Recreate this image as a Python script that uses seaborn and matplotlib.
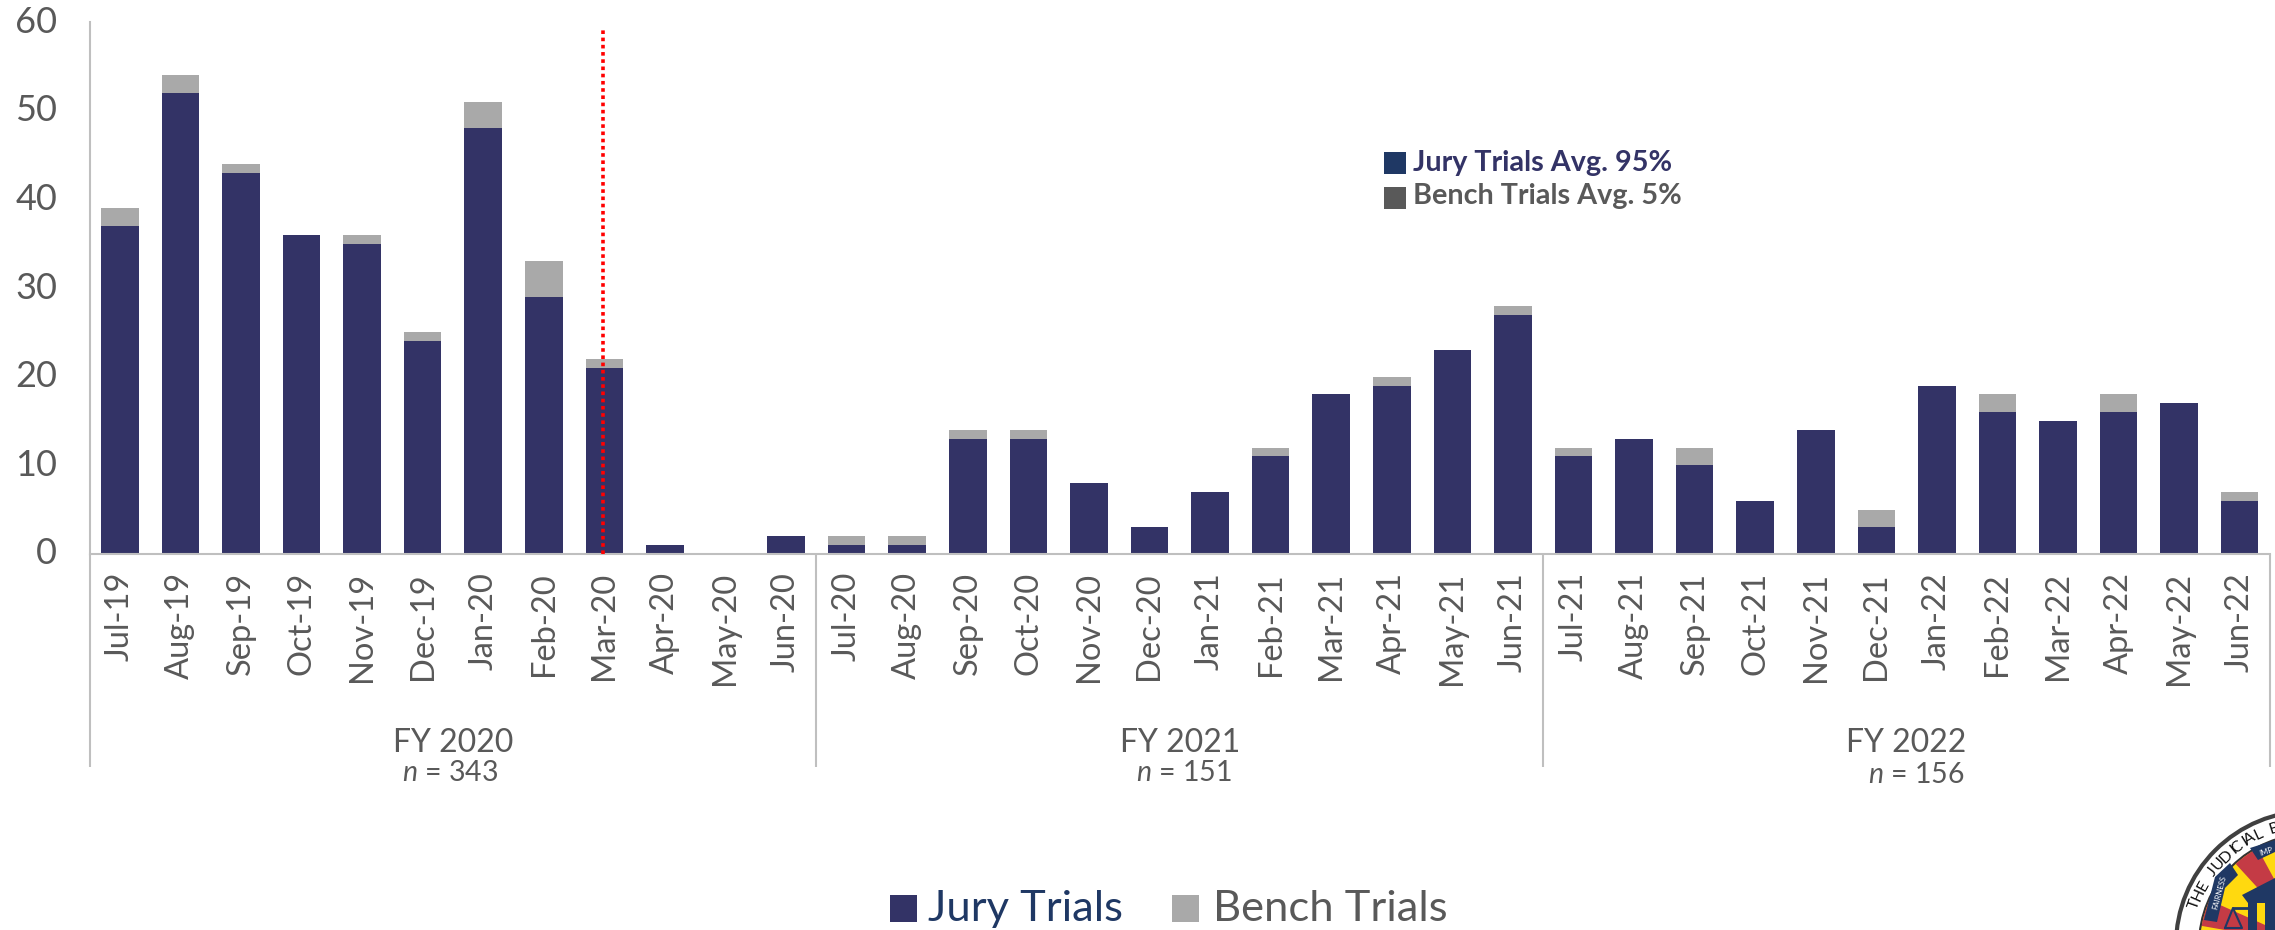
"""Monthly jury and bench trials, FY 2020 to FY 2022, as stacked seaborn bars."""

import matplotlib.pyplot as plt
import numpy as np
import pandas as pd
import seaborn as sns
from matplotlib.patches import Circle, Polygon, Rectangle, Wedge
from matplotlib.transforms import ScaledTranslation

months = [
    "Jul-19", "Aug-19", "Sep-19", "Oct-19", "Nov-19", "Dec-19",
    "Jan-20", "Feb-20", "Mar-20", "Apr-20", "May-20", "Jun-20",
    "Jul-20", "Aug-20", "Sep-20", "Oct-20", "Nov-20", "Dec-20",
    "Jan-21", "Feb-21", "Mar-21", "Apr-21", "May-21", "Jun-21",
    "Jul-21", "Aug-21", "Sep-21", "Oct-21", "Nov-21", "Dec-21",
    "Jan-22", "Feb-22", "Mar-22", "Apr-22", "May-22", "Jun-22",
]
jury = [
    37, 52, 43, 36, 35, 24, 48, 29, 21, 1, 0, 2,
    1, 1, 13, 13, 8, 3, 7, 11, 18, 19, 23, 27,
    11, 13, 10, 6, 14, 3, 19, 16, 15, 16, 17, 6,
]
bench = [
    2, 2, 1, 0, 1, 1, 3, 4, 1, 0, 0, 0,
    1, 1, 1, 1, 0, 0, 0, 1, 0, 1, 0, 1,
    1, 0, 2, 0, 0, 2, 0, 2, 0, 2, 0, 1,
]
fiscal_years = ["FY 2020", "FY 2021", "FY 2022"]
fiscal_counts = ["343", "151", "156"]

NAVY = "#333366"
DEEP_BLUE = "#1F3864"
GREY = "#A9A9A9"
TEXT = "#595959"
AXIS = "#BFBFBF"
W, H = 2275, 930

sns.set_theme(style="white")
plt.rcParams["font.family"] = ["Lato", "DejaVu Sans"]
plt.rcParams["mathtext.fontset"] = "custom"
plt.rcParams["mathtext.it"] = "Lato:italic"
plt.rcParams["mathtext.rm"] = "Lato"

df = pd.DataFrame({"month": months, "jury": jury, "bench": bench})
df["total"] = df["jury"] + df["bench"]

fig = plt.figure(figsize=(W / 100, H / 100), dpi=100, facecolor="white")
ax = fig.add_axes([89.5 / W, 1 - 554 / H, (2270 - 89.5) / W, (554 - 22) / H])

# stacked look: full total in grey, jury drawn over it
sns.barplot(data=df, x="month", y="total", color=GREY, width=0.62, saturation=1, linewidth=0, ax=ax)
sns.barplot(data=df, x="month", y="jury", color=NAVY, width=0.62, saturation=1, linewidth=0, ax=ax)

ax.set_xlim(-0.5, len(months) - 0.5)
ax.set_ylim(0, 60)
ax.set_yticks(range(0, 61, 10))
ax.set_xlabel("")
ax.set_ylabel("")
ax.tick_params(axis="y", direction="inout", length=16.5, width=1.5, color=AXIS,
               labelsize=26, labelcolor=TEXT, pad=15)
ax.tick_params(axis="x", length=0, labelsize=23.5, labelcolor=TEXT, pad=13, labelrotation=90)
# digits sit a little low compared with the reference
for label in ax.get_yticklabels():
    label.set_transform(label.get_transform() + ScaledTranslation(0, 0.03, fig.dpi_scale_trans))
sns.despine(ax=ax, top=True, right=True)
for side in ["left", "bottom"]:
    ax.spines[side].set_color(AXIS)
    ax.spines[side].set_linewidth(1.5)

# March 2020 marker
ax.vlines(7.975, 0, 59.1, color="#FF0000", linewidth=2.6, linestyle=(0, (1, 1)), zorder=5)

# overlay in reference pixels for the multi-level axis and annotations
over = fig.add_axes([0, 0, 1, 1], facecolor="none")
over.set_xlim(0, W)
over.set_ylim(H, 0)
over.axis("off")

for x in [89.5, 816, 1543, 2270]:
    over.plot([x, x], [554, 767], color=AXIS, lw=1.5, solid_capstyle="butt")

for name, count, xc, xn, yn in zip(fiscal_years, fiscal_counts, [453, 1180, 1906], [450, 1184, 1916], [773, 773, 775]):
    over.text(xc, 743, name, ha="center", va="center", fontsize=23, color=TEXT)
    over.text(xn, yn, rf"$\mathit{{n}}$ = {count}", ha="center", va="center", fontsize=20.5, color=TEXT)

# inset averages note
over.add_patch(Rectangle((1384, 152), 22, 22, color=DEEP_BLUE, lw=0))
over.add_patch(Rectangle((1384, 187), 22, 22, color=TEXT, lw=0))
over.text(1413, 163, "Jury Trials Avg. 95%", ha="left", va="center", fontsize=20.7,
          fontweight="bold", color=NAVY)
over.text(1413, 196, "Bench Trials Avg. 5%", ha="left", va="center", fontsize=20.7,
          fontweight="bold", color=TEXT)

# bottom legend
over.add_patch(Rectangle((890, 895), 27, 27, color=NAVY, lw=0))
over.add_patch(Rectangle((1172, 895), 27, 27, color=GREY, lw=0))
over.text(928, 909, "Jury Trials", ha="left", va="center", fontsize=31.3, color=DEEP_BLUE)
over.text(1213, 909, "Bench Trials", ha="left", va="center", fontsize=31.3, color=TEXT)

# seal in the corner, cut off by the page edge
cx, cy, r = 2310, 945, 134
over.add_patch(Circle((cx, cy), r, facecolor="white", edgecolor="#404040", lw=3))
over.add_patch(Circle((cx, cy), r - 23, facecolor="#FFD90F", edgecolor="#333333", lw=1.5))
for start in [158, 190, 227.5]:
    over.add_patch(Wedge((cx, cy), r - 24, start, start + 14, facecolor="#C43B45", lw=0))

# seal lettering placed glyph by glyph along the ring
seal_text = "THE JUDICIAL BR"
steps = [0.45 if ch in "I" else 0.6 if ch == " " else 1.0 for ch in seal_text]
angle = -160.5
for ch, step in zip(seal_text, steps):
    rad = np.deg2rad(angle)
    over.text(cx + (r - 12) * np.cos(rad), cy + (r - 12) * np.sin(rad), ch, ha="center", va="center",
              fontsize=11.5, color="#111111", rotation=-angle - 90, rotation_mode="anchor")
    angle += step * 4.8

# ribbons, courthouse and scales
over.add_patch(Polygon([(2204, 920), (2215, 877), (2230, 863), (2238, 875), (2225, 888), (2217, 922)],
                       facecolor=DEEP_BLUE, lw=0))
over.add_patch(Polygon([(2250, 848), (2275, 840), (2275, 852), (2258, 860)], facecolor=DEEP_BLUE, lw=0))
over.text(2219, 893, "FAIRNESS", ha="center", va="center", fontsize=5.5, color="white", rotation=75)
over.text(2266, 851, "IMP", ha="center", va="center", fontsize=5.5, color="white", rotation=18)
over.add_patch(Polygon([(2242, 895), (2275, 878), (2275, 903), (2248, 903)], facecolor=DEEP_BLUE, lw=0))
over.add_patch(Rectangle((2248, 903), 9, 27, facecolor=DEEP_BLUE, lw=0))
over.add_patch(Rectangle((2265, 903), 10, 27, facecolor=DEEP_BLUE, lw=0))
over.plot([2225, 2233, 2242, 2225], [928, 908, 928, 928], color=DEEP_BLUE, lw=1.5)
over.plot([2233, 2250], [908, 908], color=DEEP_BLUE, lw=2)

fig.savefig("out.png", dpi=100)
